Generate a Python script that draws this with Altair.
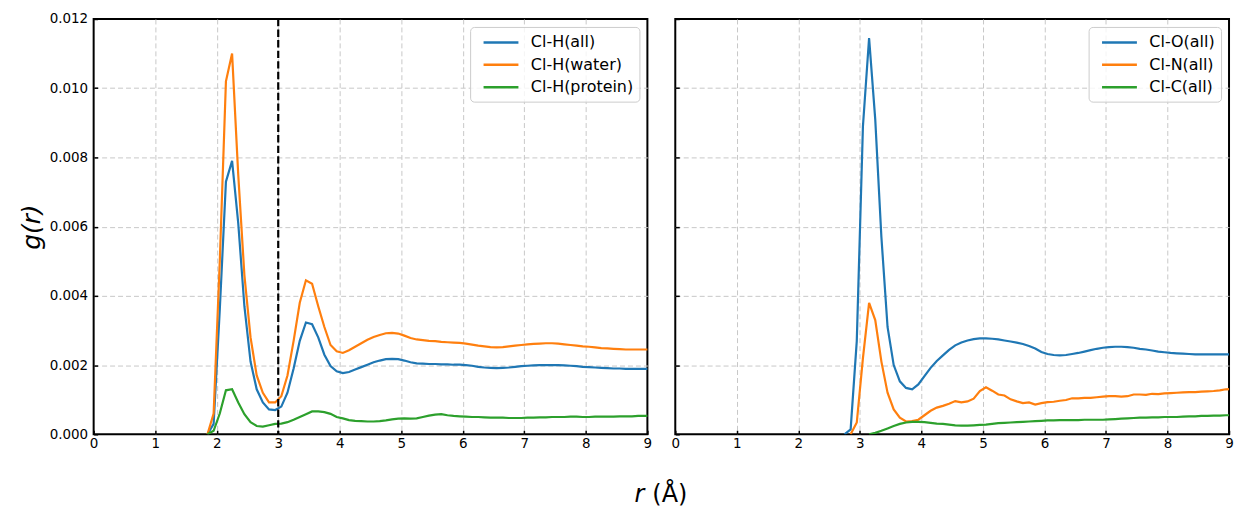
import altair as alt
import pandas as pd

FONT = "DejaVu Sans"
COLORS = ["#1f77b4", "#ff7f0e", "#2ca02c"]
STEP = 0.1

# ---------------- left panel: Cl-H ----------------
left_names = ["Cl-H(all)", "Cl-H(water)", "Cl-H(protein)"]
left_starts = [1.85, 1.85, 1.85]
cl_h_all = [
    0.0, 0.0003, 0.0036, 0.0073, 0.0079, 0.0061, 0.0037, 0.0021, 0.0013, 0.00092,
    0.00072, 0.0007, 0.0008, 0.0012, 0.0019, 0.0027, 0.00323, 0.00318, 0.0028, 0.0023,
    0.00197, 0.00182, 0.00177, 0.0018, 0.00187, 0.00194, 0.00201, 0.00208, 0.00213, 0.00217,
    0.00218, 0.00217, 0.00213, 0.00208, 0.00205, 0.00204, 0.00203, 0.00203, 0.00202, 0.00202,
    0.00201, 0.00201, 0.002, 0.00198, 0.00195, 0.00193, 0.00192, 0.00191, 0.00192, 0.00193,
    0.00195, 0.00197, 0.00198, 0.00199, 0.002, 0.002, 0.002, 0.002, 0.00199, 0.00198,
    0.00197, 0.00195, 0.00194, 0.00193, 0.00192, 0.00191, 0.0019, 0.0019, 0.00189, 0.00189,
    0.00189, 0.00189, 0.00189,
]
cl_h_water = [
    0.0, 0.0006, 0.0050, 0.0102, 0.0110, 0.0075, 0.0046, 0.0028, 0.0017, 0.0012,
    0.00092, 0.00092, 0.0011, 0.0017, 0.0027, 0.0038, 0.00445, 0.00435, 0.0037, 0.0031,
    0.00258, 0.0024, 0.00235, 0.00243, 0.00253, 0.00263, 0.00273, 0.00281, 0.00287, 0.00292,
    0.00293, 0.00291, 0.00285, 0.00278, 0.00274, 0.00272, 0.0027, 0.00269, 0.00267, 0.00266,
    0.00265, 0.00264, 0.00262, 0.00259, 0.00256, 0.00254, 0.00252, 0.00251, 0.00252, 0.00254,
    0.00256, 0.00258, 0.0026, 0.00261, 0.00262, 0.00263, 0.00263, 0.00262, 0.0026, 0.00258,
    0.00256, 0.00254, 0.00253, 0.00251, 0.00249, 0.00248, 0.00247, 0.00246, 0.00245, 0.00245,
    0.00245, 0.00245, 0.00245,
]
cl_h_protein = [
    0.0, 0.0001, 0.0006, 0.00127, 0.0013, 0.00092, 0.00058, 0.00035, 0.00024, 0.00022,
    0.00026, 0.0003, 0.00031, 0.00035, 0.00042, 0.0005, 0.00058, 0.00066, 0.00066, 0.00064,
    0.00059, 0.0005, 0.00046, 0.00041, 0.00039, 0.00038, 0.00037, 0.00037, 0.00038, 0.0004,
    0.00043, 0.00045, 0.00046, 0.00045, 0.00046, 0.0005, 0.00054, 0.00057, 0.00058, 0.00055,
    0.00053, 0.00052, 0.00051, 0.0005, 0.0005, 0.00049, 0.00048, 0.00048, 0.00048, 0.00047,
    0.00047, 0.00047, 0.00048, 0.00048, 0.00049, 0.00049, 0.0005, 0.0005, 0.0005, 0.00051,
    0.00051, 0.0005, 0.0005, 0.00051, 0.00051, 0.00051, 0.00051, 0.00052, 0.00052, 0.00052,
    0.00053, 0.00053, 0.00053,
]
cutoff_r = [3.0]

# ---------------- right panel: Cl-O / Cl-N / Cl-C ----------------
right_names = ["Cl-O(all)", "Cl-N(all)", "Cl-C(all)"]
right_starts = [2.75, 2.85, 3.15]
cl_o_all = [
    0.0, 0.00014, 0.0027, 0.0089, 0.01145, 0.0091, 0.0057, 0.0031, 0.002, 0.00153,
    0.00134, 0.0013, 0.00144, 0.00168, 0.00192, 0.00212, 0.00228, 0.00244, 0.00257, 0.00265,
    0.00271, 0.00275, 0.00277, 0.00277, 0.00276, 0.00274, 0.00271, 0.00268, 0.00265, 0.00261,
    0.00255, 0.00248, 0.00238, 0.00232, 0.00229, 0.00228, 0.00229, 0.00232, 0.00235, 0.00239,
    0.00243, 0.00247, 0.0025, 0.00252, 0.00253, 0.00253, 0.00252, 0.0025, 0.00247, 0.00245,
    0.00242, 0.00239, 0.00237, 0.00235, 0.00234, 0.00233, 0.00232, 0.00231, 0.00231, 0.00231,
    0.00231, 0.00231, 0.00231, 0.00231,
]
cl_n_all = [
    0.0, 0.00034, 0.0022, 0.0038, 0.0033, 0.0021, 0.0012, 0.00072, 0.00048, 0.00037,
    0.00038, 0.00042, 0.00055, 0.00068, 0.00077, 0.00082, 0.00088, 0.00096, 0.00092, 0.00095,
    0.00103, 0.00125, 0.00136, 0.00126, 0.00115, 0.00112, 0.00101, 0.00095, 0.0009, 0.00092,
    0.00086, 0.0009, 0.00093, 0.00094, 0.00097, 0.00099, 0.00104, 0.00104, 0.00105, 0.00105,
    0.00107, 0.00109, 0.0011, 0.0011, 0.00109, 0.0011, 0.00115, 0.00115, 0.00114, 0.00117,
    0.00116, 0.00118, 0.00119, 0.0012, 0.00121, 0.00122, 0.00122, 0.00123, 0.00124, 0.00125,
    0.00127, 0.0013, 0.00131,
]
cl_c_all = [
    0.0, 0.00004, 0.0001, 0.00017, 0.00024, 0.0003, 0.00034, 0.00036, 0.00036, 0.00035,
    0.00033, 0.00031, 0.0003, 0.00028, 0.00026, 0.00025, 0.00025, 0.00026, 0.00027, 0.00028,
    0.0003, 0.00032, 0.00033, 0.00034, 0.00035, 0.00036, 0.00037, 0.00038, 0.00039, 0.0004,
    0.0004, 0.00041, 0.00041, 0.00041, 0.00041, 0.00042, 0.00042, 0.00042, 0.00042, 0.00043,
    0.00044, 0.00045, 0.00046, 0.00047, 0.00048, 0.00048, 0.00049, 0.00049, 0.0005, 0.0005,
    0.0005, 0.00051, 0.00052, 0.00052, 0.00053, 0.00053, 0.00054, 0.00054, 0.00055, 0.00055,
]

x_ticks = [0, 1, 2, 3, 4, 5, 6, 7, 8, 9]
y_ticks = [0.0, 0.002, 0.004, 0.006, 0.008, 0.010, 0.012]


def build_df(names, starts, series):
    rows = []
    for name, r0, vals in zip(names, starts, series):
        for i, v in enumerate(vals):
            rows.append({"r": round(r0 + STEP * i, 2), "g": v, "series": name})
    return pd.DataFrame(rows)


W, H = 556, 417
x_scale = alt.Scale(domain=[0, 9], nice=False, zero=False)
y_scale = alt.Scale(domain=[0, 0.012], nice=False)

x_axis = alt.Axis(
    values=x_ticks, format="d", title=None, labelFont=FONT, labelFontSize=13.5,
    labelColor="black", labelFlush=False, tickColor="black", tickWidth=1.5,
    tickSize={"expr": "-4"}, labelPadding=6, domain=False, grid=True, gridDash=[5, 3],
    gridColor="#c8c8c8", gridWidth=1,
    gridOpacity=alt.condition("datum.value <= 0 || datum.value >= 9", alt.value(0), alt.value(1)),
)


def y_axis(show):
    kw = dict(
        values=y_ticks, format=".3f", labelFont=FONT, labelFontSize=13.5,
        labelColor="black", labelFlush=False, tickColor="black", tickWidth=1.5,
        tickSize={"expr": "-4"}, domain=False, grid=True, gridDash=[5, 3],
        gridColor="#c8c8c8", gridWidth=1,
        gridOpacity=alt.condition("datum.value <= 0 || datum.value >= 0.0119", alt.value(0), alt.value(1)),
    )
    if show:
        return alt.Axis(title="g(r)", titleFont=FONT, titleFontSize=25, titleFontStyle="italic",
                        titleFontWeight="normal", titleColor="black", titlePadding=5,
                        labelPadding=10, **kw)
    return alt.Axis(title=None, labels=False, **kw)


def legend():
    return alt.Legend(
        title=None, orient="top-right", offset=8, padding=6, fillColor="rgba(255,255,255,0.8)",
        strokeColor="#cccccc", cornerRadius=4, labelFont=FONT, labelFontSize=16,
        labelColor="black", symbolType="M-0.25,0H4.125", symbolStrokeWidth=2.5, symbolSize=256,
        rowPadding=4.5, labelOffset=36, labelLimit=300,
    )


def lines(df, names, show_y):
    return alt.Chart(df).mark_line(strokeWidth=2.2, clip=True).encode(
        x=alt.X("r:Q", scale=x_scale, axis=x_axis),
        y=alt.Y("g:Q", scale=y_scale, axis=y_axis(show_y)),
        color=alt.Color("series:N", scale=alt.Scale(domain=names, range=COLORS),
                        sort=names, legend=legend()),
    )


left_df = build_df(left_names, left_starts, [cl_h_all, cl_h_water, cl_h_protein])
right_df = build_df(right_names, right_starts, [cl_o_all, cl_n_all, cl_c_all])

cutoff = alt.Chart(pd.DataFrame({"r": cutoff_r})).mark_rule(
    color="black", strokeWidth=2.2, strokeDash=[7.4, 3.2]
).encode(x=alt.X("r:Q", scale=x_scale))

title_r = alt.Chart(pd.DataFrame({"t": ["r"]})).mark_text(
    font=FONT, fontSize=24, fontStyle="italic", align="right", baseline="alphabetic", color="black"
).encode(text="t:N", x=alt.value(553), y=alt.value(H + 68))
title_unit = alt.Chart(pd.DataFrame({"t": ["(Å)"]})).mark_text(
    font=FONT, fontSize=24, align="left", baseline="alphabetic", color="black"
).encode(text="t:N", x=alt.value(561), y=alt.value(H + 68))

left = alt.layer(lines(left_df, left_names, True), cutoff, title_r, title_unit).properties(
    width=W, height=H)
right = alt.layer(lines(right_df, right_names, False)).properties(width=W, height=H)

chart = (
    alt.hconcat(left, right, spacing=28, bounds="flush")
    .resolve_scale(color="independent")
    .resolve_legend(color="independent")
    .properties(padding={"left": 10, "top": 2, "right": 0, "bottom": 0})
    .configure_view(stroke="black", strokeWidth=2)
)

chart.save("out.html", embed_options={"renderer": "svg", "actions": False})
